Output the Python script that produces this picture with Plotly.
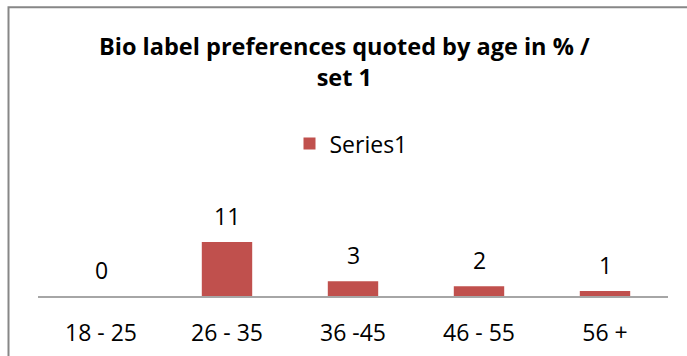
import plotly.graph_objects as go

# Age groups and share of respondents (in %)
categories = ["18 - 25", "26 - 35", "36 -45", "46 - 55", "56 +"]
values = [0, 11, 3, 2, 1]
series_name = "Series1"
title_text = "<b>Bio label preferences quoted by age in % /<br>set 1</b>"

BAR_COLOR = "#C0504D"
FONT = "Open Sans"

W, H = 687, 356
L, R = 38, 668          # plot area horizontal extent (px)
BOTTOM = 295.7          # axis line position (px from top)
YMAX = 12
PX_PER_UNIT = 4.88
TOP = BOTTOM - YMAX * PX_PER_UNIT

fig = go.Figure()
fig.add_trace(go.Bar(
    x=categories,
    y=values,
    name=series_name,
    marker=dict(color=BAR_COLOR, line=dict(width=0)),
    showlegend=True,
))

# value labels floating above each bar
for c, v in zip(categories, values):
    fig.add_annotation(
        x=c, y=v, xref="x", yref="y", text=str(v), showarrow=False,
        yshift=26, font=dict(family=FONT, size=23, color="#000000"),
    )

def px_x(px):
    return (px - L) / (R - L)

def px_y(py):
    return (BOTTOM - py) / (BOTTOM - TOP)

# chart-area frame
fig.add_shape(
    type="rect", xref="paper", yref="paper",
    x0=px_x(8.5), x1=px_x(720), y0=px_y(9), y1=px_y(400),
    line=dict(color="#878787", width=2), fillcolor="rgba(0,0,0,0)", layer="above",
)

# two-line chart title
fig.add_annotation(
    text=title_text, xref="paper", yref="paper",
    x=px_x(344.5), y=px_y(63), xanchor="center", yanchor="middle",
    showarrow=False, align="center",
    font=dict(family=FONT, size=23.5, color="#000000"),
)

fig.update_layout(
    width=W, height=H,
    margin=dict(l=L, r=W - R, t=TOP, b=H - BOTTOM, autoexpand=False),
    paper_bgcolor="white", plot_bgcolor="white",
    bargap=0.6,
    font=dict(family=FONT, size=23, color="#000000"),
    legend=dict(
        orientation="h", x=(351 - L) / (R - L), xanchor="center",
        y=px_y(144.5), yanchor="middle",
        font=dict(family=FONT, size=23), bgcolor="rgba(0,0,0,0)",
    ),
    xaxis=dict(
        showline=True, linecolor="#a6a6a6", linewidth=1.5,
        showgrid=False, ticks="", ticklabelstandoff=16,
        tickfont=dict(family=FONT, size=23),
        fixedrange=True,
    ),
    yaxis=dict(
        range=[0, YMAX], visible=False, showgrid=False, fixedrange=True,
    ),
)

fig.write_html("out.html")
